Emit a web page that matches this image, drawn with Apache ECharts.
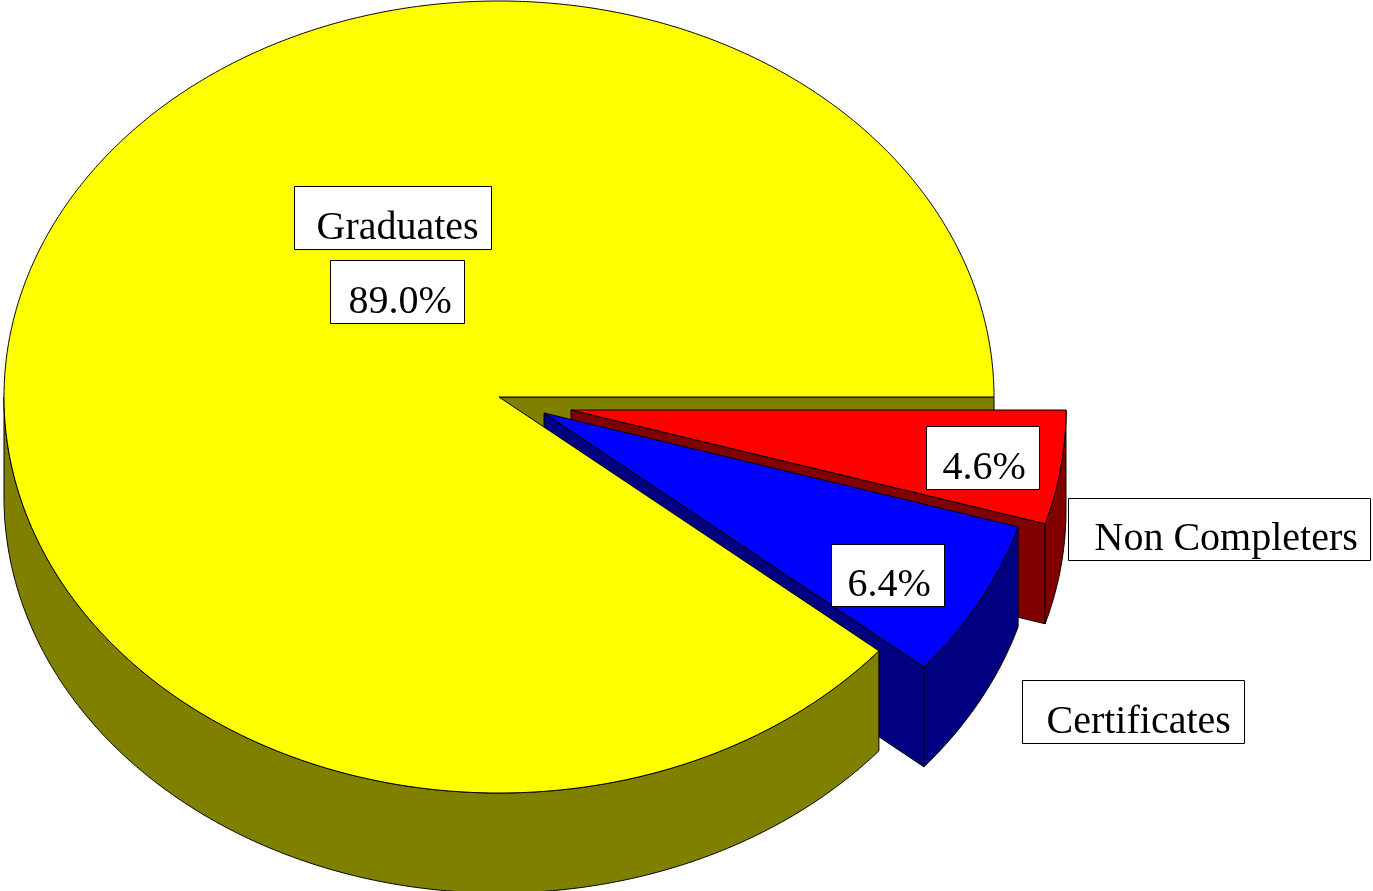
<!DOCTYPE html>
<html>
<head>
<meta charset="utf-8">
<title>Pie</title>
<style>
html,body{margin:0;padding:0;background:#fff;overflow:hidden;}
#chart{width:1373px;height:891px;}
</style>
<script src="https://cdn.jsdelivr.net/npm/echarts@6/dist/echarts.min.js"></script>
</head>
<body>
<div id="chart"></div>
<script>
// drawn clockwise from the east edge of the pie
var categories = ['Non Completers', 'Certificates', 'Graduates'];
var percents = [4.64, 6.44, 88.96];

var topColors = ['#ff0000', '#0000ff', '#ffff00'];
var sideColors = ['#800000', '#000080', '#808000'];

// layout of the tilted pie
var rx = 495, ry = 396, depth = 100;
var centers = [[571, 410], [544, 413], [499, 397]];
var zTop = [20, 22, 30];
// [x, y, width, height, text inset] of the label boxes
var nameBoxes = [[1068.5, 498.5, 302, 62, 26], [1022.5, 680.5, 222, 63, 24], [294.5, 186.5, 197, 63, 22]];
var percentBoxes = [[926.5, 426.5, 113, 63, 16], [831.5, 544.5, 113, 62, 16], [330.5, 260.5, 134, 63, 18]];

function percentTotal() {
    var sum = 0;
    for (var k = 0; k < percents.length; k++) {
        sum += percents[k];
    }
    return sum;
}

function startAngle(i) {
    var sum = 0;
    for (var k = 0; k < i; k++) {
        sum += percents[k];
    }
    return sum / percentTotal() * 360;
}

function ellipsePoint(c, deg, dy) {
    var a = deg * Math.PI / 180;
    return [c[0] + rx * Math.cos(a), c[1] + ry * Math.sin(a) + dy];
}

function arcPoints(c, from, to, dy) {
    var pts = [];
    var n = Math.max(2, Math.ceil(Math.abs(to - from) * 3));
    for (var i = 0; i <= n; i++) {
        pts.push(ellipsePoint(c, from + (to - from) * i / n, dy));
    }
    return pts;
}

function poly(points, color, z2) {
    return {
        type: 'polygon',
        z2: z2,
        shape: {points: points},
        style: {fill: color, stroke: '#000', lineWidth: 1}
    };
}

function labelBox(box, text, z2) {
    return {
        type: 'group',
        children: [{
            type: 'rect',
            z2: z2,
            shape: {x: box[0], y: box[1], width: box[2], height: box[3]},
            style: {fill: '#fff', stroke: '#000', lineWidth: 1}
        }, {
            type: 'text',
            z2: z2 + 1,
            style: {
                x: box[0] + box[4],
                y: box[1] + box[3] / 2 + 10,
                text: text,
                fill: '#000',
                font: '40px "Liberation Serif"',
                textAlign: 'left',
                textVerticalAlign: 'middle'
            }
        }]
    };
}

function renderSlice(params, api) {
    var i = params.dataIndex;
    var c = centers[i];
    var from = startAngle(i);
    var to = from + api.value(0) / percentTotal() * 360;
    var z = zTop[i];
    var children = [];

    // cut wall of the slice, the yellow one stays behind the others
    if (i == 2) {
        var east = ellipsePoint(c, 360, 0);
        children.push(poly([c, east, [east[0], east[1] + depth], [c[0], c[1] + depth]], sideColors[i], 1));
    } else {
        var edge = ellipsePoint(c, to, 0);
        children.push(poly([c, edge, [edge[0], edge[1] + depth], [c[0], c[1] + depth]], sideColors[i], z));
    }

    // outer rim, only the part facing the viewer
    var rimTo = Math.min(to, 180);
    var rim = arcPoints(c, from, rimTo, 0).concat(arcPoints(c, rimTo, from, depth));
    children.push(poly(rim, sideColors[i], z));

    // top face
    children.push(poly([c].concat(arcPoints(c, from, to, 0)), topColors[i], z + 1));

    children.push(labelBox(nameBoxes[i], categories[i], 40));
    children.push(labelBox(percentBoxes[i], api.value(0).toFixed(1) + '%', 40));

    return {type: 'group', children: children};
}

var myChart = echarts.init(document.getElementById('chart'), null, {renderer: 'canvas'});
var option = {
    backgroundColor: '#fff',
    animation: false,
    series: [{
        type: 'custom',
        coordinateSystem: 'none',
        renderItem: renderSlice,
        data: percents.map(function (v) { return [v]; })
    }]
};
myChart.setOption(option);
</script>
</body>
</html>
